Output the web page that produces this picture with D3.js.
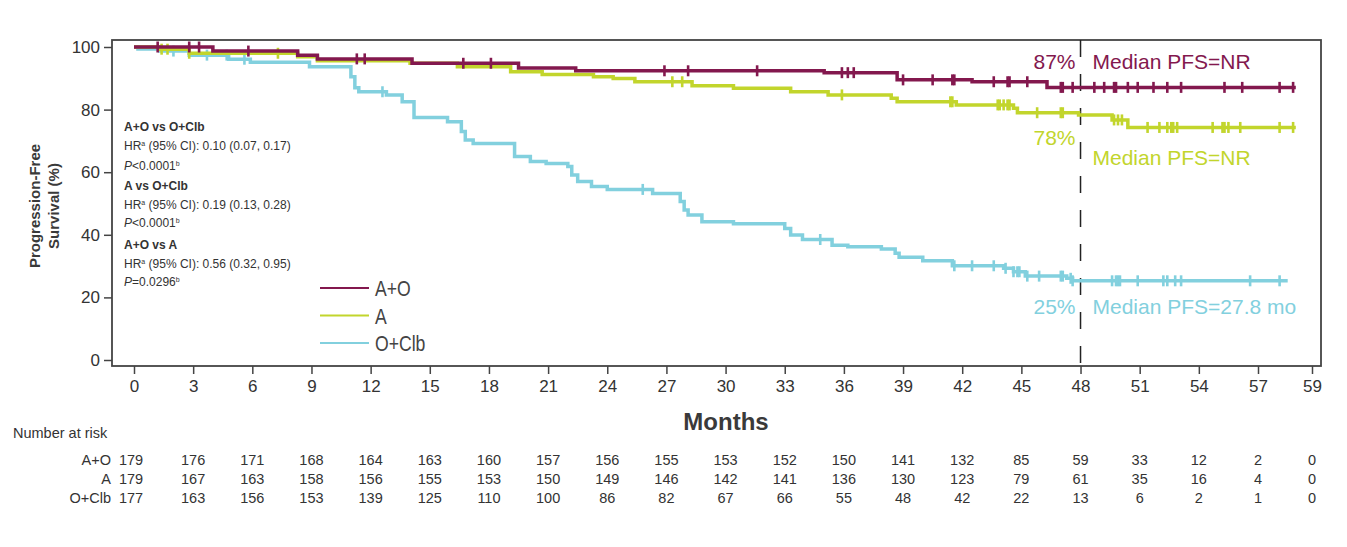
<!DOCTYPE html>
<html lang="en">
<head>
  <meta charset="UTF-8">
  <title>Progression-Free Survival by Arm</title>
  <script src="https://d3js.org/d3.v7.min.js"></script>
  <style>
    body {
      margin: 0;
      background: #fff;
      font-family: "Liberation Sans", Arial, sans-serif;
    }
  </style>
</head>
<body>
  <svg width="1347" height="547"></svg>
  <script>
    // arms and colours
    const groups = ["A+O", "A", "O+Clb"];
    const colors = ["#83184e", "#c2d52c", "#82d0de"];

    // Kaplan-Meier steps (month, % progression-free)
    const aoTime = [0, 4.0, 8.3, 9.3, 14.1, 19.5, 22.4, 35.0, 38.7, 42.5, 46.3];
    const aoSurv = [100, 98.7, 97.4, 96.2, 94.8, 93.3, 92.4, 91.8, 89.5, 88.9, 87.1];
    const aoEnd = 58.4;

    const aTime = [0, 1.3, 2.8, 8.3, 9.3, 14.0, 16.4, 19.1, 20.7, 23.3, 24.3, 25.4, 28.3, 30.4, 33.3, 35.2, 38.4, 38.7, 41.7, 44.6, 44.8, 47.9, 49.6, 50.4];
    const aSurv = [100, 99.3, 98.0, 96.9, 95.6, 94.8, 93.7, 92.1, 91.2, 90.5, 89.9, 88.9, 87.6, 86.8, 85.7, 84.7, 83.6, 82.5, 81.5, 80.4, 79.0, 78.3, 76.7, 74.3];
    const aEnd = 58.4;

    const ocTime = [0, 0.2, 1.3, 2.8, 4.8, 5.9, 8.9, 11.0, 11.2, 11.4, 12.8, 13.6, 14.2, 15.9, 16.6, 16.8, 17.2, 19.3, 20.1, 20.9, 22.0, 22.2, 22.5, 23.2, 24.0, 26.3, 27.7, 27.9, 28.1, 28.8, 30.4, 33.0, 33.3, 33.9, 35.4, 36.2, 37.9, 38.6, 38.8, 40.0, 41.5, 44.1, 44.6, 45.2, 47.3, 47.6];
    const ocSurv = [100, 99.4, 98.7, 97.4, 96.1, 95.1, 93.7, 90.5, 87.0, 85.7, 84.7, 82.5, 77.5, 76.1, 73.0, 70.3, 69.2, 65.0, 63.4, 62.8, 61.8, 59.1, 57.0, 55.4, 54.5, 53.2, 50.6, 47.9, 46.3, 44.2, 43.5, 42.0, 39.9, 38.5, 36.7, 36.2, 35.5, 34.1, 32.8, 31.7, 30.1, 29.3, 28.2, 26.8, 26.1, 25.3];
    const ocEnd = 58.1;

    // censoring marks (month)
    const aoCens = [1.2, 2.8, 3.3, 5.8, 11.3, 11.7, 16.7, 18.1, 26.9, 28.1, 31.6, 35.9, 36.2, 36.5, 39.0, 40.5, 41.5, 41.6, 43.6, 44.3, 44.4, 45.3, 47.0, 47.1, 47.6, 48.7, 49.2, 49.7, 49.8, 50.4, 50.9, 51.7, 52.4, 53.1, 55.3, 56.2, 57.8, 58.3];
    const aCens = [1.4, 1.7, 2.8, 7.3, 27.3, 27.8, 35.9, 41.4, 41.5, 43.8, 43.9, 44.1, 44.3, 44.4, 45.8, 47.0, 47.1, 49.7, 49.9, 50.1, 51.4, 52.0, 52.4, 52.6, 52.7, 52.9, 54.7, 55.2, 55.3, 55.5, 56.1, 57.8, 58.3];
    const ocCens = [2.0, 3.7, 4.7, 5.6, 12.6, 25.8, 34.8, 41.6, 42.5, 43.6, 44.2, 44.6, 44.8, 44.9, 45.3, 45.9, 47.0, 47.1, 47.5, 47.6, 49.6, 49.8, 49.9, 50.0, 50.9, 52.2, 52.4, 52.8, 53.1, 56.6, 57.8];

    // axes
    const xTicks = [0, 3, 6, 9, 12, 15, 18, 21, 24, 27, 30, 33, 36, 39, 42, 45, 48, 51, 54, 57, 59];
    const yTicks = [0, 20, 40, 60, 80, 100];
    const landmark = 48;

    // number at risk
    const riskAO = [179, 176, 171, 168, 164, 163, 160, 157, 156, 155, 153, 152, 150, 141, 132, 85, 59, 33, 12, 2, 0];
    const riskA = [179, 167, 163, 158, 156, 155, 153, 150, 149, 146, 142, 141, 136, 130, 123, 79, 61, 35, 16, 4, 0];
    const riskOC = [177, 163, 156, 153, 139, 125, 110, 100, 86, 82, 67, 66, 55, 48, 42, 22, 13, 6, 2, 1, 0];

    // landmark / median labels
    const landmarkPct = ["87%", "78%", "25%"];
    const medianText = ["Median PFS=NR", "Median PFS=NR", "Median PFS=27.8 mo"];

    // hazard ratio annotations: [header, HR text, P operator, P value]
    const comparisons = [
      ["A+O vs O+Clb", "0.10 (0.07, 0.17)", "<", "0.0001"],
      ["A vs O+Clb", "0.19 (0.13, 0.28)", "<", "0.0001"],
      ["A+O vs A", "0.56 (0.32, 0.95)", "=", "0.0296"]
    ];

    const series = [
      { time: aoTime, surv: aoSurv, end: aoEnd, cens: aoCens },
      { time: aTime, surv: aSurv, end: aEnd, cens: aCens },
      { time: ocTime, surv: ocSurv, end: ocEnd, cens: ocCens }
    ];

    const svg = d3.select("svg");
    const frame = { left: 112, top: 40, right: 1321, bottom: 366 };
    const textCol = "#333";

    // the printed axis squeezes the last interval (57 -> 59)
    const x = d3.scaleLinear().domain([0, 57, 59]).range([134, 1258, 1312]);
    const y = d3.scaleLinear().domain([0, 100]).range([360, 47]);

    // frame
    svg.append("rect")
      .attr("x", frame.left).attr("y", frame.top)
      .attr("width", frame.right - frame.left).attr("height", frame.bottom - frame.top)
      .attr("fill", "none").attr("stroke", "#444").attr("stroke-width", 1.8);

    // y axis
    const yAxis = svg.append("g").attr("transform", `translate(${frame.left},0)`)
      .call(d3.axisLeft(y).tickValues(yTicks).tickSize(8).tickPadding(4));
    yAxis.select(".domain").remove();
    yAxis.selectAll("line").attr("stroke", "#444").attr("stroke-width", 1.5);
    yAxis.selectAll("text").attr("font-size", 17).attr("fill", textCol)
      .attr("font-family", "'Liberation Sans', Arial, sans-serif");

    // x axis
    const xAxis = svg.append("g").attr("transform", `translate(0,${frame.bottom})`)
      .call(d3.axisBottom(x).tickValues(xTicks).tickFormat(d3.format("d")).tickSize(8).tickPadding(6));
    xAxis.select(".domain").remove();
    xAxis.selectAll("line").attr("stroke", "#444").attr("stroke-width", 1.5);
    xAxis.selectAll("text").attr("font-size", 17).attr("fill", textCol)
      .attr("font-family", "'Liberation Sans', Arial, sans-serif");

    svg.append("text")
      .attr("x", 726).attr("y", 430)
      .attr("text-anchor", "middle")
      .attr("font-size", 24).attr("font-weight", "bold").attr("fill", "#3a3a3a")
      .text("Months");

    const yLab = svg.append("g").attr("font-size", 15).attr("font-weight", "bold").attr("fill", "#3a3a3a")
      .attr("text-anchor", "middle");
    yLab.append("text").attr("transform", "translate(40,206) rotate(-90)").text("Progression-Free");
    yLab.append("text").attr("transform", "translate(59,206) rotate(-90)").text("Survival (%)");

    // landmark dashed line
    svg.append("line")
      .attr("x1", x(landmark)).attr("x2", x(landmark))
      .attr("y1", frame.top).attr("y2", frame.bottom)
      .attr("stroke", "#222").attr("stroke-width", 1.5)
      .attr("stroke-dasharray", "17,17");

    // curves
    const line = d3.line()
      .x(d => x(d[0])).y(d => y(d[1]))
      .curve(d3.curveStepAfter);

    // draw O+Clb first so the upper arms sit on top
    [2, 1, 0].forEach(i => {
      const s = series[i];
      const pts = s.time.map((t, k) => [t, s.surv[k]]);
      pts.push([s.end, s.surv[s.surv.length - 1]]);
      svg.append("path")
        .attr("d", line(pts))
        .attr("fill", "none")
        .attr("stroke", colors[i])
        .attr("stroke-width", 3.5);

      const survAt = t => s.surv[Math.max(0, d3.bisectRight(s.time, t) - 1)];
      svg.append("g").selectAll("line")
        .data(s.cens)
        .join("line")
        .attr("x1", d => x(d)).attr("x2", d => x(d))
        .attr("y1", d => y(survAt(d)) - 5.5)
        .attr("y2", d => y(survAt(d)) + 5.5)
        .attr("stroke", colors[i])
        .attr("stroke-width", 2.6);
    });

    // landmark percentages and medians
    const labelY = [69, 145, 314];
    const medianY = [69, 165, 314];
    groups.forEach((g, i) => {
      svg.append("text")
        .attr("x", x(landmark) - 5).attr("y", labelY[i])
        .attr("text-anchor", "end")
        .attr("font-size", 21).attr("fill", colors[i])
        .text(landmarkPct[i]);
      svg.append("text")
        .attr("x", x(landmark) + 12).attr("y", medianY[i])
        .attr("font-size", 21).attr("fill", colors[i])
        .text(medianText[i]);
    });

    // hazard ratio block
    const ann = svg.append("g").attr("font-size", 12).attr("fill", textCol);
    comparisons.forEach((c, i) => {
      const y0 = 131 + i * 59;
      ann.append("text").attr("x", 124).attr("y", y0)
        .attr("font-weight", "bold").text(c[0]);
      const hr = ann.append("text").attr("x", 124).attr("y", y0 + 19);
      hr.append("tspan").text("HR");
      hr.append("tspan").attr("font-size", 7).attr("dy", -4).text("a");
      hr.append("tspan").attr("dy", 4).text(" (95% CI): " + c[1]);
      const p = ann.append("text").attr("x", 124).attr("y", y0 + 39 - (i > 0 ? 2 : 0));
      p.append("tspan").attr("font-style", "italic").text("P");
      p.append("tspan").text(c[2] + c[3]);
      p.append("tspan").attr("font-size", 7).attr("dy", -4).text("b");
    });

    // legend (condensed lettering, squeezed horizontally)
    const legend = svg.append("g");
    groups.forEach((g, i) => {
      const ly = 288 + i * 27.5;
      legend.append("line")
        .attr("x1", 320).attr("x2", 369).attr("y1", ly).attr("y2", ly)
        .attr("stroke", colors[i]).attr("stroke-width", 2);
      legend.append("text")
        .attr("transform", `translate(375,${ly + 8}) scale(0.8,1)`)
        .attr("font-size", 22).attr("fill", "#444")
        .text(g);
    });

    // number at risk table
    svg.append("text")
      .attr("x", 13).attr("y", 438)
      .attr("font-size", 14.5).attr("fill", textCol)
      .text("Number at risk");

    const riskRows = [riskAO, riskA, riskOC];
    riskRows.forEach((row, i) => {
      const ry = 465 + i * 18.8;
      svg.append("text")
        .attr("x", 111).attr("y", ry)
        .attr("text-anchor", "end")
        .attr("font-size", 14.5).attr("fill", textCol)
        .text(groups[i]);
      svg.append("g").selectAll("text")
        .data(row)
        .join("text")
        .attr("x", (d, k) => k === 0 ? x(xTicks[k]) - 3 : x(xTicks[k]))
        .attr("y", ry)
        .attr("text-anchor", "middle")
        .attr("font-size", 14.5).attr("fill", textCol)
        .text(d => d);
    });
  </script>
</body>
</html>
